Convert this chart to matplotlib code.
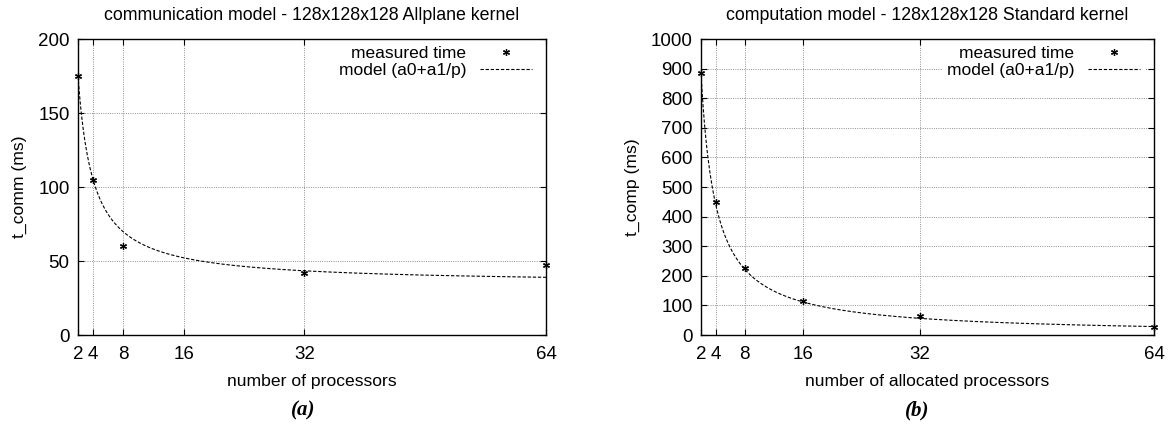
import numpy as np
import matplotlib
matplotlib.use("Agg")
import matplotlib.pyplot as plt
from matplotlib.ticker import FixedLocator

plt.rcParams['font.family'] = ['Liberation Sans', 'DejaVu Sans']

# ---- data ----
x_ticks = [2, 4, 8, 16, 32, 64]

comm_p = [2, 4, 8, 32, 64]
comm_t = [175, 105, 60, 42, 47]
comm_a0, comm_a1 = 34.6, 281.0

comp_p = [2, 4, 8, 16, 32, 64]
comp_t = [885, 450, 225, 115, 65, 28]
comp_a0, comp_a1 = 1.0, 1765.0

titles = ["communication model - 128x128x128 Allplane kernel",
          "computation model - 128x128x128 Standard kernel"]
ylabels = ["t_comm (ms)", "t_comp (ms)"]
xlabels = ["number of processors", "number of allocated processors"]
panel_tags = ["(a)", "(b)"]
yticks_list = [list(range(0, 201, 50)), list(range(0, 1001, 100))]
ylims = [(0, 200), (0, 1000)]

W, H = 1168, 434
fig = plt.figure(figsize=(W / 100, H / 100), dpi=100)

def frac(x0, y0, x1, y1):
    return [x0 / W, 1 - y1 / H, (x1 - x0) / W, (y1 - y0) / H]

axes_px = [(78, 39, 546, 335), (701, 39, 1154, 335)]
tag_x = [303, 917]

series = [(comm_p, comm_t, comm_a0, comm_a1), (comp_p, comp_t, comp_a0, comp_a1)]

for i in range(2):
    ax = fig.add_axes(frac(*axes_px[i]))
    p, t, a0, a1 = series[i]
    pp = np.linspace(2, 64, 400)
    ax.plot(p, t, linestyle='none', marker=(6, 2, 0), markersize=5,
            markeredgewidth=0.9, color='black', label='measured time',
            zorder=4, clip_on=False)
    ax.plot(pp, a0 + a1 / pp, color='black', linewidth=0.8,
            linestyle=(0, (3, 1.6)), label='model (a0+a1/p)', zorder=3)
    ax.set_xlim(2, 64)
    ax.set_ylim(*ylims[i])
    ax.xaxis.set_major_locator(FixedLocator(x_ticks))
    ax.set_xticklabels([str(v) for v in x_ticks])
    ax.yaxis.set_major_locator(FixedLocator(yticks_list[i]))
    ax.grid(True, color='0.5', linewidth=0.65, linestyle=(0, (1, 1.5)))
    ax.tick_params(direction='in', length=4, width=0.8, labelsize=13.5,
                   top=True, right=True)
    ax.tick_params(axis='x', pad=8)
    ax.tick_params(axis='y', pad=6)
    for s in ax.spines.values():
        s.set_linewidth(1.0)
    ax.set_title(titles[i], fontsize=12.8, pad=14)
    ax.set_ylabel(ylabels[i], fontsize=12.6, labelpad=8)
    ax.set_xlabel(xlabels[i], fontsize=12.6, labelpad=8)
    leg = ax.legend(loc='upper right', markerfirst=False, frameon=True,
                    fontsize=12.5, handlelength=3.0, handletextpad=0.8,
                    borderaxespad=0.2, borderpad=0.2, labelspacing=0.1,
                    fancybox=False, numpoints=1, bbox_to_anchor=(0.985, 1.0))
    leg.get_frame().set_edgecolor('white')
    leg.get_frame().set_facecolor('white')
    leg.get_frame().set_alpha(1.0)
    fig.text(tag_x[i] / W, 1 - 410 / H, panel_tags[i], ha='center', va='center',
             fontsize=15, fontweight='bold', fontstyle='italic',
             family=['Liberation Serif', 'DejaVu Serif'])

fig.savefig('out.png', dpi=100)
